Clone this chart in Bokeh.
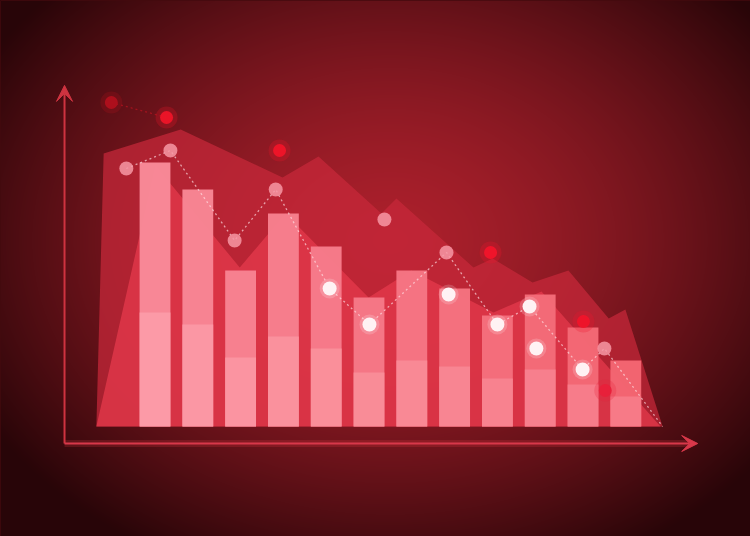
import numpy as np
from bokeh.plotting import figure
from bokeh.models import Range1d, Arrow, VeeHead
from bokeh.embed import file_html
from bokeh.resources import INLINE

# ---------------- data ----------------
bar_pos = [1, 2, 3, 4, 5, 6, 7, 8, 9, 10, 11, 12]
bar_total = [88, 79, 52, 71, 60, 43, 52, 46, 37, 44, 33, 22]
bar_base = [38, 34, 23, 30, 26, 18, 22, 20, 16, 19, 14, 10]

back_x = [-0.37, -0.2, 1.6, 3.98, 4.82, 6.29, 6.64, 8.44, 8.89, 9.82, 10.66, 11.6, 11.99, 12.86]
back_v = [0, 91, 99, 83, 90, 71, 76, 53, 56, 48, 52, 36, 39, 0]

front_x = [-0.37, 1.01, 2.98, 4.05, 5.99, 6.99, 8.91, 10.03, 12.81]
front_v = [0, 87, 53, 71, 43, 52, 38, 45, 0]

line_x = [0.33, 1.36, 2.86, 3.82, 5.08, 6.01, 7.81, 9.0, 9.75, 10.99, 11.5, 12.86]
line_v = [86, 92, 62, 79, 46, 34, 58, 34, 40, 19, 26, 0]
line_kind = ["pink", "pink", "pink", "pink", "white", "white", "pink",
             "white", "white", "white", "pink", "end"]

extra_x = [6.36, 7.86, 9.91]
extra_v = [69, 44, 26]
extra_kind = ["pink", "white", "white"]

red_x = [-0.02, 1.27, 3.91, 8.84, 11.01, 11.52]
red_v = [108, 103, 92, 58, 35, 12]

# ---------------- layout ----------------
W, H = 750, 536
X0, X1 = -2.610, 14.913
Y0, Y1 = -36.67, 142.0

p = figure(width=W, height=H, output_backend="svg", toolbar_location=None,
           x_range=Range1d(X0, X1), y_range=Range1d(Y0, Y1),
           x_axis_type=None, y_axis_type=None, min_border=0,
           background_fill_color="#5a0e14", border_fill_color="#5a0e14")
p.outline_line_color = None
p.grid.visible = False

# radial gradient background
yy, xx = np.mgrid[0:H, 0:W]
refx = xx + 0.5
refy = H - yy - 0.5  # row 0 at bottom
d = np.sqrt(((refx - 390) / 470.0) ** 2 + ((refy - 240) / 360.0) ** 2)
t = np.clip(d, 0, 1) ** 1.5
c_in = np.array([172, 32, 44], dtype=float)
c_out = np.array([40, 5, 8], dtype=float)
img = np.empty((H, W), dtype=np.uint32)
view = img.view(dtype=np.uint8).reshape((H, W, 4))
for k in range(3):
    view[:, :, k] = (c_in[k] * (1 - t) + c_out[k] * t).astype(np.uint8)
view[:, :, 3] = 255
p.image_rgba(image=[img], x=X0, y=Y0, dw=X1 - X0, dh=Y1 - Y0)

# areas
p.patch(back_x, back_v, fill_color="#c8283a", fill_alpha=0.72, line_color=None)
p.patch(front_x, front_v, fill_color="#e63a4c", fill_alpha=0.75, line_color=None)

# bars with a left-to-right colour drift
def mix(a, b, f):
    a = np.array([int(a[i:i + 2], 16) for i in (1, 3, 5)])
    b = np.array([int(b[i:i + 2], 16) for i in (1, 3, 5)])
    c = (a * (1 - f) + b * f).astype(int)
    return "#%02x%02x%02x" % tuple(c)

n = len(bar_pos)
top_cols = [mix("#f98a99", "#f46673", i / (n - 1)) for i in range(n)]
low_cols = [mix("#fc9ba7", "#f77b88", i / (n - 1)) for i in range(n)]
p.vbar(x=bar_pos, top=bar_total, bottom=0, width=0.72, fill_color=top_cols,
       fill_alpha=0.97, line_color=None)
p.vbar(x=bar_pos, top=bar_base, bottom=0, width=0.72, fill_color=low_cols,
       fill_alpha=0.97, line_color=None)

# axes (decorative arrows)
ax_x, ax_y = -1.114, -5.67
p.line([ax_x, 13.5], [ax_y, ax_y], line_color="#ff4050", line_width=7, line_alpha=0.18)
p.add_layout(Arrow(x_start=ax_x, y_start=ax_y, x_end=ax_x, y_end=113.7,
                   line_color="#cf3340", line_width=2,
                   end=VeeHead(size=16, fill_color="#cf3340", line_color="#cf3340")))
p.add_layout(Arrow(x_start=ax_x, y_start=ax_y, x_end=13.68, y_end=ax_y,
                   line_color="#d8384a", line_width=2,
                   end=VeeHead(size=16, fill_color="#d8384a", line_color="#d8384a")))

# dotted lines
p.line(line_x, line_v, line_color="#ffe4e8", line_alpha=0.65, line_width=1.3, line_dash="2 3")
p.line(red_x[:2], red_v[:2], line_color="#e01424", line_alpha=0.5, line_width=1.3, line_dash="2 3")

# dots
fill_of = {"pink": "#f798a5", "white": "#fff2f4"}
alpha_of = {"pink": 0.85, "white": 1.0}
for xs, vs, ks in ((line_x, line_v, line_kind), (extra_x, extra_v, extra_kind)):
    for kind in ("pink", "white"):
        px = [x for x, k in zip(xs, ks) if k == kind]
        pv = [v for v, k in zip(vs, ks) if k == kind]
        if kind == "white":
            p.scatter(px, pv, size=20, fill_color="#ffffff", fill_alpha=0.18, line_color=None)
        p.scatter(px, pv, size=14, fill_color=fill_of[kind], fill_alpha=alpha_of[kind],
                  line_color=None)

red_cols = ["#b0101c", "#ee1428", "#f01428", "#f2142a", "#f0142a", "#e8203a"]
p.scatter(red_x, red_v, size=22, fill_color=red_cols, fill_alpha=0.25, line_color=None)
p.scatter(red_x, red_v, size=13, fill_color=red_cols, fill_alpha=0.95, line_color=None)

html = file_html(p, INLINE)
html = html.replace("</head>",
                    "<style>html,body{margin:0;padding:0;background:#2c0608;overflow:hidden}</style></head>", 1)
open("out.html", "w").write(html)
